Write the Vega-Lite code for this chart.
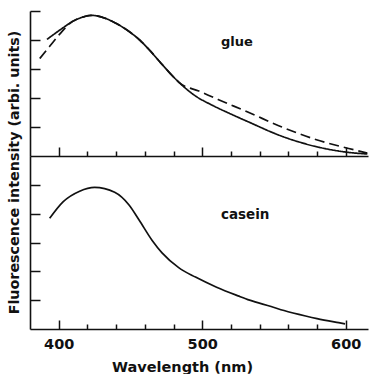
{
  "$schema": "https://vega.github.io/schema/vega-lite/v6.json",
  "background": "white",
  "padding": {"left": 7, "top": 10, "right": 0, "bottom": 0},
  "spacing": 0,
  "bounds": "flush",
  "config": {
    "view": {"stroke": null},
    "font": "DejaVu Sans",
    "axis": {
      "grid": false,
      "labelOverlap": false,
      "tickCount": 40,
      "domainColor": "#111",
      "domainWidth": 1.6,
      "tickColor": "#111",
      "tickWidth": 1.5,
      "labelColor": "#111",
      "titleColor": "#111",
      "labelFont": "DejaVu Sans",
      "titleFont": "DejaVu Sans",
      "labelFontWeight": "bold",
      "titleFontWeight": "bold",
      "labelFontSize": 14.5,
      "titleFontSize": 14
    }
  },
  "datasets": {
    "curves": [
      {"panel": "glue", "series": "solid", "wavelength": 391.8, "intensity": 4.02},
      {"panel": "glue", "series": "solid", "wavelength": 403.0, "intensity": 4.42},
      {"panel": "glue", "series": "solid", "wavelength": 409.0, "intensity": 4.62},
      {"panel": "glue", "series": "solid", "wavelength": 415.0, "intensity": 4.76},
      {"panel": "glue", "series": "solid", "wavelength": 422.8, "intensity": 4.85},
      {"panel": "glue", "series": "solid", "wavelength": 430.0, "intensity": 4.79},
      {"panel": "glue", "series": "solid", "wavelength": 437.8, "intensity": 4.63},
      {"panel": "glue", "series": "solid", "wavelength": 448.8, "intensity": 4.3},
      {"panel": "glue", "series": "solid", "wavelength": 456.4, "intensity": 4.0},
      {"panel": "glue", "series": "solid", "wavelength": 462.0, "intensity": 3.72},
      {"panel": "glue", "series": "solid", "wavelength": 472.0, "intensity": 3.16},
      {"panel": "glue", "series": "solid", "wavelength": 481.3, "intensity": 2.66},
      {"panel": "glue", "series": "solid", "wavelength": 484.0, "intensity": 2.53},
      {"panel": "glue", "series": "solid", "wavelength": 495.3, "intensity": 2.07},
      {"panel": "glue", "series": "solid", "wavelength": 507.0, "intensity": 1.75},
      {"panel": "glue", "series": "solid", "wavelength": 518.5, "intensity": 1.48},
      {"panel": "glue", "series": "solid", "wavelength": 532.0, "intensity": 1.18},
      {"panel": "glue", "series": "solid", "wavelength": 555.0, "intensity": 0.69},
      {"panel": "glue", "series": "solid", "wavelength": 578.0, "intensity": 0.34},
      {"panel": "glue", "series": "solid", "wavelength": 601.0, "intensity": 0.13},
      {"panel": "glue", "series": "solid", "wavelength": 615.0, "intensity": 0.07},
      {"panel": "glue", "series": "dashed", "wavelength": 386.8, "intensity": 3.36},
      {"panel": "glue", "series": "dashed", "wavelength": 394.0, "intensity": 3.8},
      {"panel": "glue", "series": "dashed", "wavelength": 401.0, "intensity": 4.22},
      {"panel": "glue", "series": "dashed", "wavelength": 409.0, "intensity": 4.62},
      {"panel": "glue", "series": "dashed", "wavelength": 415.0, "intensity": 4.76},
      {"panel": "glue", "series": "dashed", "wavelength": 422.8, "intensity": 4.85},
      {"panel": "glue", "series": "dashed", "wavelength": 430.0, "intensity": 4.79},
      {"panel": "glue", "series": "dashed", "wavelength": 437.8, "intensity": 4.63},
      {"panel": "glue", "series": "dashed", "wavelength": 448.8, "intensity": 4.3},
      {"panel": "glue", "series": "dashed", "wavelength": 456.4, "intensity": 4.0},
      {"panel": "glue", "series": "dashed", "wavelength": 462.0, "intensity": 3.72},
      {"panel": "glue", "series": "dashed", "wavelength": 472.0, "intensity": 3.16},
      {"panel": "glue", "series": "dashed", "wavelength": 481.3, "intensity": 2.66},
      {"panel": "glue", "series": "dashed", "wavelength": 484.0, "intensity": 2.53},
      {"panel": "glue", "series": "dashed", "wavelength": 497.6, "intensity": 2.24},
      {"panel": "glue", "series": "dashed", "wavelength": 511.0, "intensity": 1.95},
      {"panel": "glue", "series": "dashed", "wavelength": 532.5, "intensity": 1.5},
      {"panel": "glue", "series": "dashed", "wavelength": 555.5, "intensity": 1.0},
      {"panel": "glue", "series": "dashed", "wavelength": 579.0, "intensity": 0.57},
      {"panel": "glue", "series": "dashed", "wavelength": 602.0, "intensity": 0.26},
      {"panel": "glue", "series": "dashed", "wavelength": 615.0, "intensity": 0.1},
      {"panel": "casein", "series": "solid", "wavelength": 393.7, "intensity": 3.84},
      {"panel": "casein", "series": "solid", "wavelength": 403.0, "intensity": 4.41},
      {"panel": "casein", "series": "solid", "wavelength": 414.6, "intensity": 4.78},
      {"panel": "casein", "series": "solid", "wavelength": 425.0, "intensity": 4.91},
      {"panel": "casein", "series": "solid", "wavelength": 439.0, "intensity": 4.74},
      {"panel": "casein", "series": "solid", "wavelength": 449.0, "intensity": 4.3},
      {"panel": "casein", "series": "solid", "wavelength": 456.0, "intensity": 3.78},
      {"panel": "casein", "series": "solid", "wavelength": 465.0, "intensity": 3.08},
      {"panel": "casein", "series": "solid", "wavelength": 472.0, "intensity": 2.64},
      {"panel": "casein", "series": "solid", "wavelength": 483.6, "intensity": 2.13},
      {"panel": "casein", "series": "solid", "wavelength": 495.3, "intensity": 1.8},
      {"panel": "casein", "series": "solid", "wavelength": 510.0, "intensity": 1.45},
      {"panel": "casein", "series": "solid", "wavelength": 525.0, "intensity": 1.15},
      {"panel": "casein", "series": "solid", "wavelength": 533.0, "intensity": 1.0},
      {"panel": "casein", "series": "solid", "wavelength": 548.0, "intensity": 0.78},
      {"panel": "casein", "series": "solid", "wavelength": 557.0, "intensity": 0.64},
      {"panel": "casein", "series": "solid", "wavelength": 572.0, "intensity": 0.45},
      {"panel": "casein", "series": "solid", "wavelength": 580.0, "intensity": 0.36},
      {"panel": "casein", "series": "solid", "wavelength": 595.0, "intensity": 0.22},
      {"panel": "casein", "series": "solid", "wavelength": 599.5, "intensity": 0.18}
    ],
    "notes": [
      {"panel": "glue", "wavelength": 513, "intensity": 3.93, "label": "glue"},
      {"panel": "casein", "wavelength": 513, "intensity": 3.97, "label": "casein"}
    ]
  },
  "vconcat": [
    {
      "width": 338,
      "height": 145,
      "layer": [
        {
          "data": {"name": "curves"},
          "transform": [{"filter": "datum.panel === 'glue'"}],
          "mark": {"type": "line", "color": "#111", "strokeWidth": 1.7, "interpolate": "monotone"},
          "encoding": {
            "x": {
              "field": "wavelength", "type": "quantitative",
              "scale": {"domain": [380, 615.5], "nice": false, "zero": false},
              "axis": {
                "title": null, "labels": false, "tickCount": 40,
                "values": [400, 420, 440, 460, 480, 500, 520, 540, 560, 580, 600],
                "tickSize": {"condition": {"test": "datum.value % 100 === 0", "value": -9}, "value": -5}
              }
            },
            "y": {
              "field": "intensity", "type": "quantitative",
              "scale": {"domain": [0, 5], "nice": false},
              "axis": {"title": null, "labels": false, "tickCount": 40, "values": [1, 2, 3, 4, 5], "tickSize": -10}
            },
            "strokeDash": {
              "field": "series", "type": "nominal",
              "scale": {"domain": ["solid", "dashed"], "range": [[1, 0], [10, 5]]},
              "legend": null
            }
          }
        },
        {
          "data": {"name": "notes"},
          "transform": [{"filter": "datum.panel === 'glue'"}],
          "mark": {"type": "text", "align": "left", "baseline": "middle", "font": "DejaVu Sans", "fontWeight": "bold", "fontSize": 13, "color": "#111"},
          "encoding": {
            "x": {"field": "wavelength", "type": "quantitative"},
            "y": {"field": "intensity", "type": "quantitative"},
            "text": {"field": "label"}
          }
        }
      ]
    },
    {
      "width": 338,
      "height": 173,
      "layer": [
        {
          "data": {"name": "curves"},
          "transform": [{"filter": "datum.panel === 'casein'"}],
          "mark": {"type": "line", "color": "#111", "strokeWidth": 1.7, "interpolate": "monotone"},
          "encoding": {
            "x": {
              "field": "wavelength", "type": "quantitative",
              "scale": {"domain": [380, 615.5], "nice": false, "zero": false},
              "axis": {
                "title": "Wavelength  (nm)",
                "titleFontSize": 14.5,
                "titleX": 152,
                "tickCount": 40,
                "values": [400, 420, 440, 460, 480, 500, 520, 540, 560, 580, 600],
                "labelExpr": "datum.value % 100 === 0 ? datum.label : ''",
                "labelPadding": 17,
                "titlePadding": 6,
                "tickSize": {"condition": {"test": "datum.value % 100 === 0", "value": -9}, "value": -5}
              }
            },
            "y": {
              "field": "intensity", "type": "quantitative",
              "scale": {"domain": [0, 6], "nice": false},
              "axis": {
                "title": "Fluorescence intensity  (arbi. units)",
                "titleFontSize": 14.3,
                "labels": false, "tickCount": 40, "values": [1, 2, 3, 4, 5], "tickSize": -10,
                "titleY": 16, "titlePadding": 8
              }
            }
          }
        },
        {
          "data": {"name": "notes"},
          "transform": [{"filter": "datum.panel === 'casein'"}],
          "mark": {"type": "text", "align": "left", "baseline": "middle", "font": "DejaVu Sans", "fontWeight": "bold", "fontSize": 13.5, "color": "#111"},
          "encoding": {
            "x": {"field": "wavelength", "type": "quantitative"},
            "y": {"field": "intensity", "type": "quantitative"},
            "text": {"field": "label"}
          }
        }
      ]
    }
  ]
}
